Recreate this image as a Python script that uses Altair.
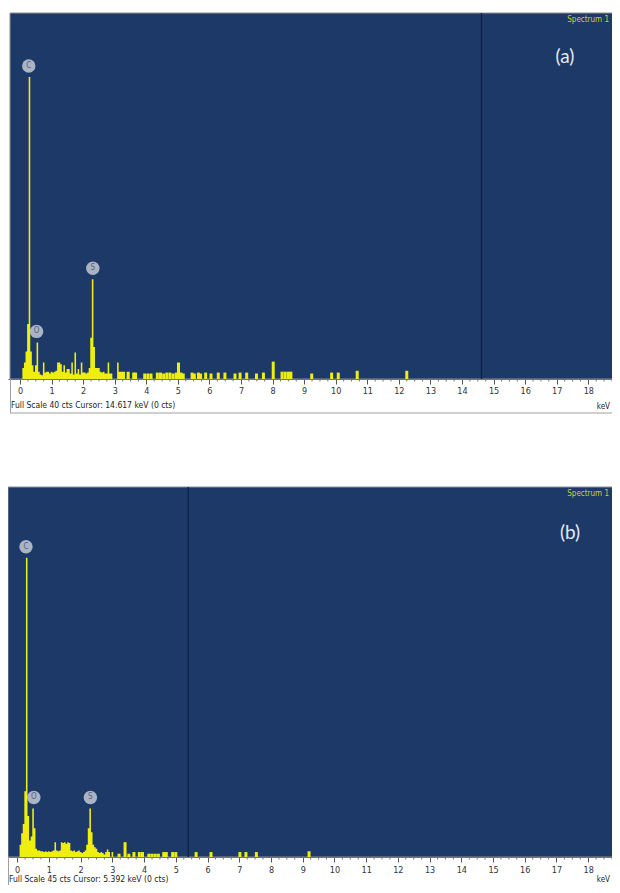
import altair as alt
import pandas as pd

# ---------------- data: panel (a) ----------------
a_keV = [0.05, 0.10, 0.15, 0.20, 0.25, 0.30, 0.35, 0.40, 0.45, 0.50,
         0.55, 0.60, 0.65, 0.70, 0.75, 0.80, 0.85, 0.90, 0.95, 1.00,
         1.05, 1.10, 1.15, 1.20, 1.25, 1.30, 1.35, 1.40, 1.45, 1.50,
         1.55, 1.60, 1.65, 1.70, 1.75, 1.80, 1.85, 1.90, 1.95, 2.00,
         2.05, 2.10, 2.15, 2.20, 2.25, 2.30, 2.35, 2.40, 2.45, 2.50,
         2.55, 2.60, 2.65, 2.70, 2.75, 2.80, 2.85, 2.90, 2.95, 3.00,
         3.05, 3.10, 3.15, 3.20, 3.25, 3.30, 3.35, 3.40, 3.45, 3.50]
a_cts = [0.0, 1.2, 1.8, 3.0, 6.0, 33.0, 3.0, 1.5, 0.8, 1.5,
         4.0, 0.8, 0.5, 0.4, 1.8, 0.7, 0.8, 0.8, 0.6, 0.8,
         0.7, 0.8, 0.9, 1.8, 1.8, 1.6, 0.8, 1.5, 0.7, 1.1,
         1.1, 0.6, 1.8, 0.5, 2.9, 0.6, 1.1, 0.5, 1.8, 0.7,
         0.7, 0.6, 0.7, 1.2, 4.5, 10.9, 3.5, 1.2, 1.2, 1.2,
         0.8, 0.7, 0.8, 0.6, 0.6, 1.8, 0.6, 0.6, 0.0, 0.0,
         0.0, 1.8, 0.8, 0.8, 0.8, 0.8, 0.0, 0.8, 0.8, 0.0]
a_spike_keV = [3.60, 3.66, 3.95, 4.05, 4.15, 4.35, 4.45, 4.55, 4.65, 4.75,
               4.85, 4.95, 5.02, 5.10, 5.17, 5.45, 5.52, 5.65, 5.72, 5.88,
               6.05, 6.28, 6.49, 6.81, 6.97, 7.18, 7.49, 7.71, 8.02, 8.30,
               8.40, 8.50, 8.58, 9.24, 9.87, 10.08, 10.68, 12.25]
a_spike_cts = [0.7, 0.7, 0.6, 0.6, 0.6, 0.7, 0.7, 0.6, 0.7, 0.7,
               0.6, 0.7, 1.8, 0.7, 0.6, 0.7, 0.6, 0.7, 0.6, 0.7,
               0.6, 0.7, 0.7, 0.6, 0.7, 0.7, 0.6, 0.7, 1.9, 0.8,
               0.8, 0.8, 0.8, 0.6, 0.7, 0.7, 0.9, 0.9]
a_elements = ["C", "O", "S"]
a_elem_keV = [0.277, 0.525, 2.307]
a_elem_cts = [33.0, 4.0, 10.9]
a_cursor_keV = 14.617
a_full_scale = 40
a_footer = "Full Scale 40 cts  Cursor: 14.617 keV (0 cts)"
a_tag = "(a)"

# ---------------- data: panel (b) ----------------
b_keV = [0.05, 0.10, 0.15, 0.20, 0.25, 0.30, 0.35, 0.40, 0.45, 0.50,
         0.55, 0.60, 0.65, 0.70, 0.75, 0.80, 0.85, 0.90, 0.95, 1.00,
         1.05, 1.10, 1.15, 1.20, 1.25, 1.30, 1.35, 1.40, 1.45, 1.50,
         1.55, 1.60, 1.65, 1.70, 1.75, 1.80, 1.85, 1.90, 1.95, 2.00,
         2.05, 2.10, 2.15, 2.20, 2.25, 2.30, 2.35, 2.40, 2.45, 2.50,
         2.55, 2.60, 2.65, 2.70, 2.75, 2.80, 2.85, 2.90, 2.95, 3.00,
         3.05]
b_cts = [0.0, 1.5, 2.9, 4.0, 8.0, 36.4, 5.0, 2.0, 2.5, 5.9,
         3.5, 1.0, 0.8, 0.8, 0.7, 0.7, 0.6, 0.7, 0.6, 0.7,
         0.6, 0.7, 0.8, 1.8, 0.8, 0.7, 0.8, 1.8, 1.7, 1.8,
         1.6, 1.8, 1.7, 0.8, 0.7, 0.8, 0.6, 0.7, 0.8, 0.6,
         0.5, 0.6, 0.8, 1.5, 3.5, 5.9, 3.0, 1.5, 1.2, 1.0,
         0.6, 0.5, 0.6, 0.5, 0.3, 0.6, 0.9, 0.6, 0.0, 0.6,
         0.0]
b_spike_keV = [3.21, 3.40, 3.52, 3.68, 3.85, 3.95, 4.15, 4.25, 4.35, 4.45,
               4.62, 4.70, 4.90, 5.00, 5.64, 6.11, 7.02, 7.21, 7.54, 9.20]
b_spike_cts = [0.4, 1.8, 0.4, 0.6, 0.6, 0.6, 0.4, 0.4, 0.4, 0.4,
               0.6, 0.6, 0.6, 0.6, 0.6, 0.6, 0.6, 0.6, 0.6, 0.7]
b_elements = ["C", "O", "S"]
b_elem_keV = [0.277, 0.525, 2.307]
b_elem_cts = [36.4, 5.9, 5.9]
b_cursor_keV = 5.392
b_full_scale = 45
b_footer = "Full Scale 45 cts  Cursor: 5.392 keV (0 cts)"
b_tag = "(b)"

spectrum_name = "Spectrum 1"
axis_unit = "keV"
major_ticks = list(range(0, 19))
minor_ticks = [i / 4 for i in range(0, 76) if i % 4 != 0]

# ---------------- styles / layout ----------------
BLUE = "#1c3968"
YELLOW = "#eeee10"
NARROW = "Liberation Sans Narrow, DejaVu Sans Condensed, Liberation Sans, sans-serif"
W = 604      # page x 8 .. 612 (wider would make the page scroll)
HT = 877     # page y 8 .. 885
XMAX = 18.75


def one():
    return alt.Chart(pd.DataFrame({"t": [0]}))


def panel(keV, cts, sp_keV, sp_cts, elems, e_keV, e_cts, cursor, full, footer, tag,
          xmin, top, base, left, lab_pad, band_bottom, tag_xy, spec_y, foot_y, unit_y):
    xs = alt.Scale(domain=[xmin, XMAX], nice=False, zero=False, padding=0)
    ys = alt.Scale(domain=[0, full], range=[base, top], nice=False, padding=0)
    xax = alt.Axis(values=major_ticks, format="d", grid=False, title=None,
                   orient="bottom", offset=base - HT,
                   domainColor="#5a5a5a", tickColor="#555555", tickSize=5,
                   labelFontSize=9, labelFont=NARROW, labelColor="#333333",
                   labelPadding=lab_pad, labelOverlap=False)

    def X():
        return alt.X("keV:Q", scale=xs, axis=xax)

    def Y():
        return alt.Y("cts:Q", scale=ys, axis=None)

    dense = pd.DataFrame({"keV": keV, "cts": cts})
    sparse = pd.DataFrame({"keV": sp_keV, "cts": sp_cts})
    labels = pd.DataFrame({"el": elems, "keV": e_keV, "cts": e_cts})

    bg = one().mark_rect(fill=BLUE, stroke="#8f8f8f", strokeWidth=1).encode(
        x=alt.value(left), x2=alt.value(W + 2), y=alt.value(top), y2=alt.value(base))
    area = alt.Chart(dense).mark_area(interpolate="step", color=YELLOW).encode(x=X(), y=Y())
    bars = alt.Chart(sparse).mark_bar(size=3, color=YELLOW).encode(x=X(), y=Y())
    cur = alt.Chart(pd.DataFrame({"keV": [cursor]})).mark_rule(
        color="#0d2246", strokeWidth=1.3).encode(x=X(), y=alt.value(top), y2=alt.value(base))
    minor = alt.Chart(pd.DataFrame({"keV": minor_ticks})).mark_rule(
        color="#777777", strokeWidth=1).encode(x=X(), y=alt.value(base), y2=alt.value(base + 2.5))
    circ = alt.Chart(labels).mark_point(
        shape="circle", filled=True, size=180, color="#c3cad6", opacity=0.85,
        yOffset=-11).encode(x=X(), y=Y())
    let = alt.Chart(labels).mark_text(
        fontSize=8, font=NARROW, color="#56617c", yOffset=-11, baseline="middle",
        align="center").encode(x=X(), y=Y(), text="el:N")

    tagt = alt.Chart(pd.DataFrame({"t": [tag]})).mark_text(
        font="Lato", fontSize=19, color="#e3e9f3", align="center", baseline="middle").encode(
        text="t:N", x=alt.value(tag_xy[0]), y=alt.value(tag_xy[1]))
    spec = alt.Chart(pd.DataFrame({"t": [spectrum_name]})).mark_text(
        font=NARROW, fontSize=8, color="#c9d42a", align="right", baseline="middle").encode(
        text="t:N", x=alt.value(W - 3), y=alt.value(spec_y))
    foot = alt.Chart(pd.DataFrame({"t": [footer]})).mark_text(
        font=NARROW, fontSize=8.5, color="#222222", align="left", baseline="middle").encode(
        text="t:N", x=alt.value(left + 1), y=alt.value(foot_y))
    unit = alt.Chart(pd.DataFrame({"t": [axis_unit]})).mark_text(
        font=NARROW, fontSize=8, color="#222222", align="right", baseline="middle").encode(
        text="t:N", x=alt.value(W - 2), y=alt.value(unit_y))
    border_l = one().mark_rule(color="#a0a0a0").encode(
        x=alt.value(left + 0.5), y=alt.value(base), y2=alt.value(band_bottom))
    layers = [bg, area, bars, cur, minor, circ, let, tagt, spec, foot, unit, border_l]
    if band_bottom < HT:
        border_b = one().mark_rule(color="#a0a0a0").encode(
            x=alt.value(left), x2=alt.value(W), y=alt.value(band_bottom))
        layers.append(border_b)
    return alt.layer(*layers)


# svg origin = page (8, 8)
pa = panel(a_keV, a_cts, a_spike_keV, a_spike_cts, a_elements, a_elem_keV, a_elem_cts,
           a_cursor_keV, a_full_scale, a_footer, a_tag, -0.38,
           top=5, base=371, left=2, lab_pad=2, band_bottom=405,
           tag_xy=(557, 49), spec_y=12, foot_y=397, unit_y=399)
pb = panel(b_keV, b_cts, b_spike_keV, b_spike_cts, b_elements, b_elem_keV, b_elem_cts,
           b_cursor_keV, b_full_scale, b_footer, b_tag, -0.29,
           top=479, base=849, left=0, lab_pad=3, band_bottom=HT,
           tag_xy=(562, 525), spec_y=486, foot_y=871, unit_y=872)

chart = alt.layer(pa, pb).resolve_scale(x="independent", y="independent").properties(
    width=W, height=HT,
    autosize=alt.AutoSizeParams(type="none"),
    padding={"left": 0, "top": 0, "right": 0, "bottom": 0},
).configure_view(stroke=None, fill="white")

chart.save("out.html", embed_options={"renderer": "svg", "actions": False})
